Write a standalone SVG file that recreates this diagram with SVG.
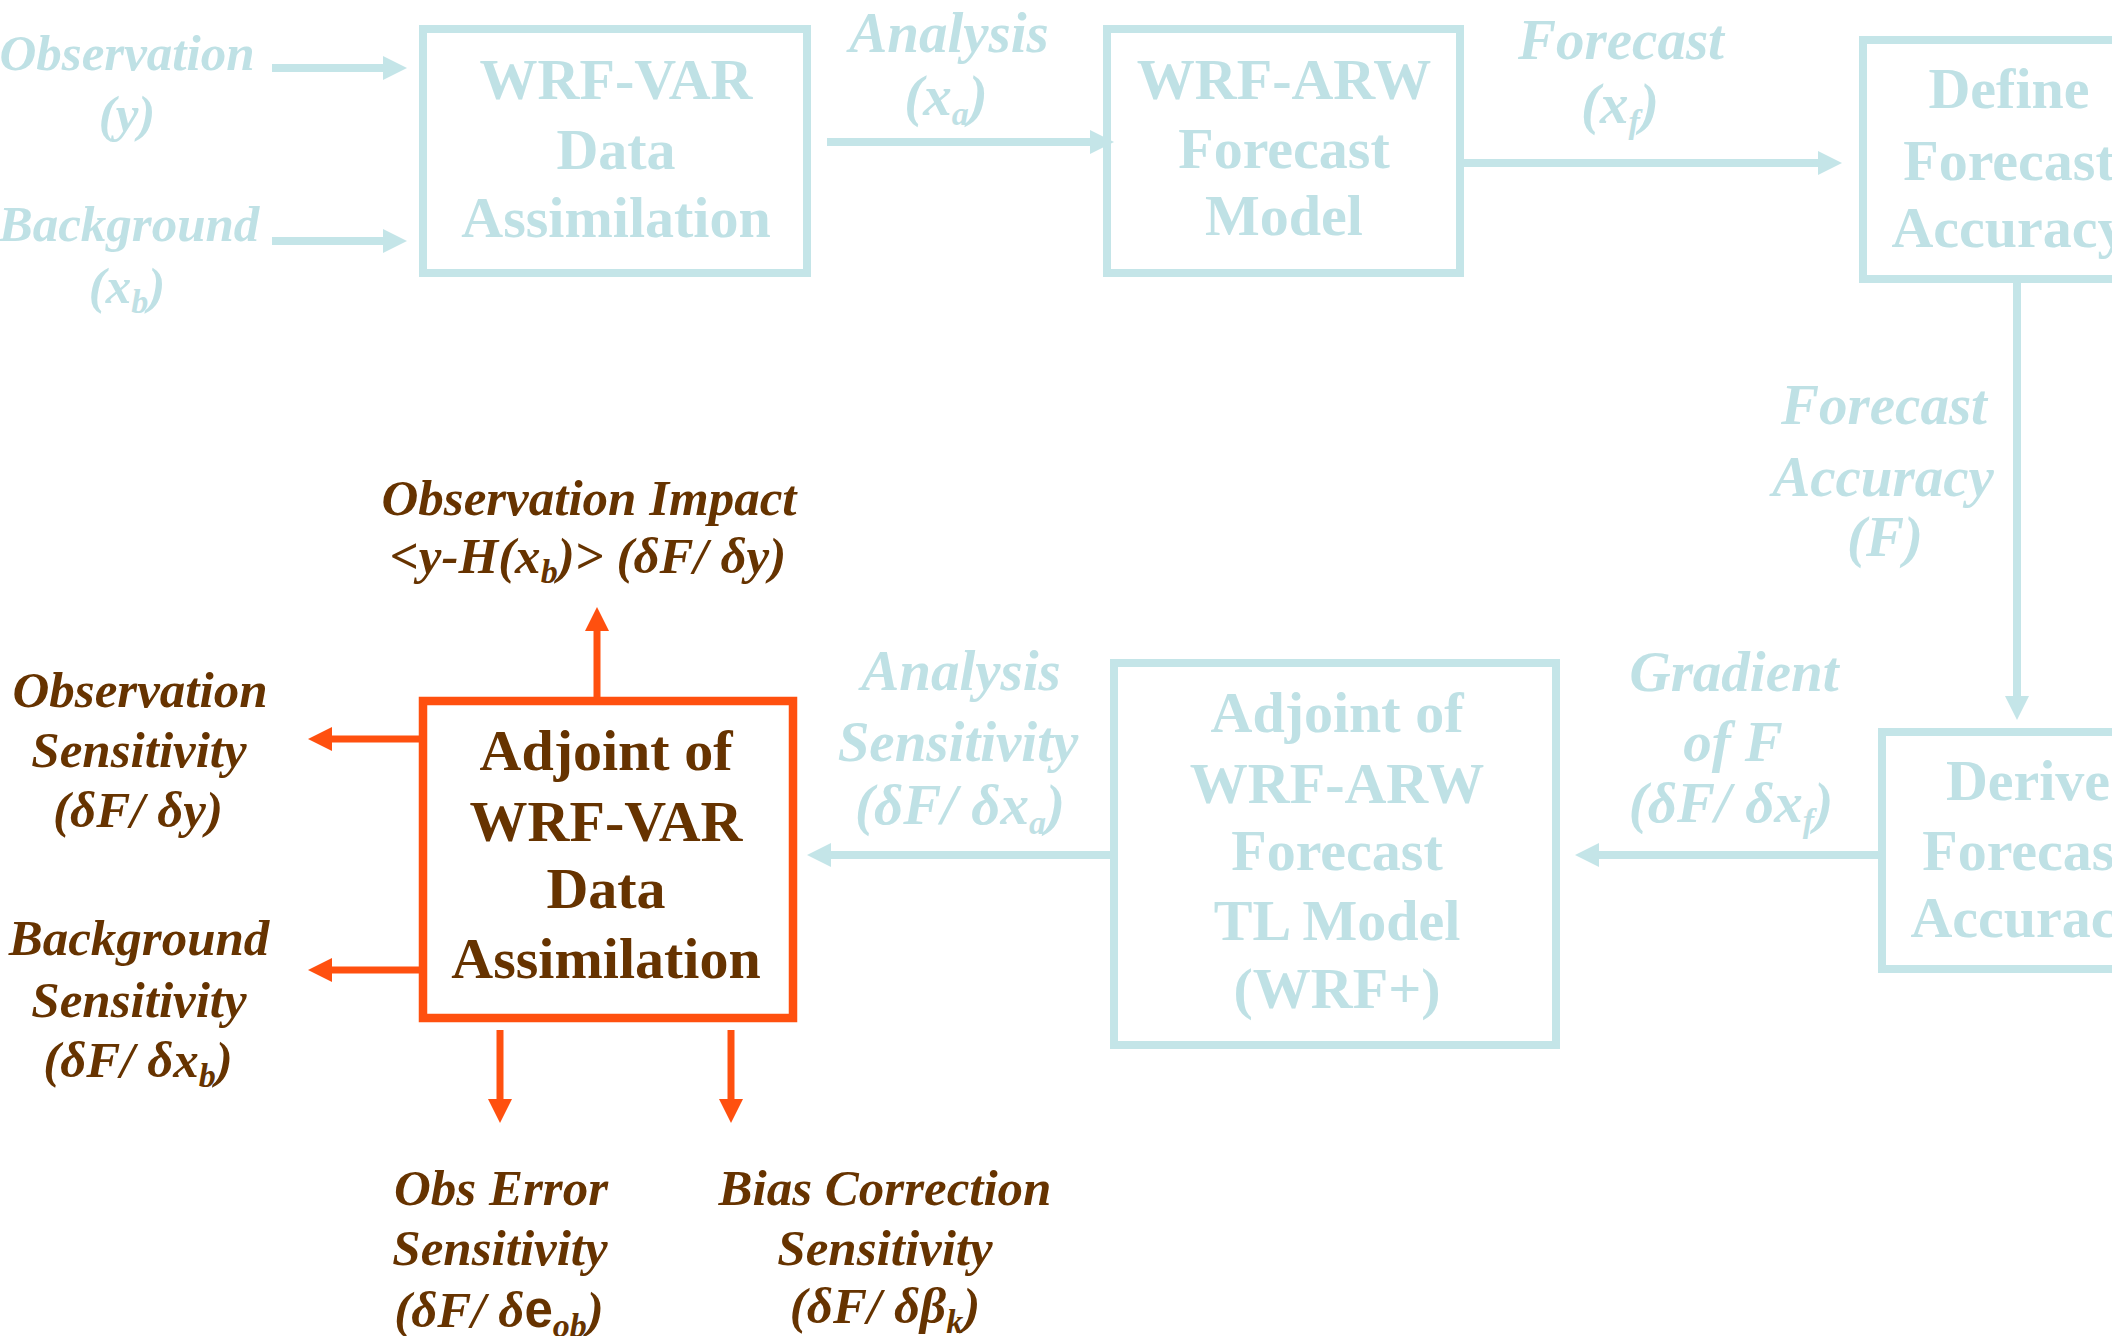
<svg xmlns="http://www.w3.org/2000/svg" width="2112" height="1336" viewBox="0 0 2112 1336">
<defs>
<marker id="ahT" markerUnits="userSpaceOnUse" markerWidth="24" markerHeight="24" viewBox="0 0 24 24" refX="0" refY="12" orient="auto"><path d="M0,0 L24,12 L0,24 z" fill="#c4e5e8"/></marker>
<marker id="ahO" markerUnits="userSpaceOnUse" markerWidth="24" markerHeight="24" viewBox="0 0 24 24" refX="0" refY="12" orient="auto"><path d="M0,0 L24,12 L0,24 z" fill="#ff500f"/></marker>
</defs>
<style>
.bt{fill:none;stroke:#c4e5e8;stroke-width:8}
.bo{fill:#fff;stroke:#ff500f;stroke-width:8.5}
.ct{fill:none;stroke:#c4e5e8;stroke-width:8;marker-end:url(#ahT)}
.co{fill:none;stroke:#ff500f;stroke-width:7;marker-end:url(#ahO)}
text{font-family:"Liberation Serif","Times New Roman",serif;font-weight:bold;text-anchor:middle}
.nt{fill:#bfe1e5;font-size:58px}
.nb{fill:#663300;font-size:58px}
.lt{fill:#bfe1e5;font-size:57px;font-style:italic}
.ls{fill:#bfe1e5;font-size:51px;font-style:italic}
.lb{fill:#663300;font-size:51px;font-style:italic}
.sub{font-size:34px}
.sans{font-family:"Liberation Sans",Arial,sans-serif;font-style:normal}
</style>
<rect width="2112" height="1336" fill="#fff"/>
<g id="connectors">
<path class="ct" d="M272,68 H383"/>
<path class="ct" d="M272,241 H383"/>
<path class="ct" d="M827,142 H1090"/>
<path class="ct" d="M1464,163 H1818"/>
<path class="ct" d="M2017,283 V696"/>
<path class="ct" d="M1878,855 H1599"/>
<path class="ct" d="M1110,855 H831"/>
<path class="co" d="M597,697 V631"/>
<path class="co" d="M419,739 H332"/>
<path class="co" d="M419,970 H332"/>
<path class="co" d="M500,1030 V1099"/>
<path class="co" d="M731,1030 V1099"/>
</g>
<g id="labels">
<text class="ls" x="127" y="70">Observation</text>
<text class="ls" x="127" y="131">(y)</text>
<text class="ls" x="129" y="241">Background</text>
<text class="ls" x="127" y="303">(x<tspan class="sub" dy="10">b</tspan><tspan dy="-10">)</tspan></text>
<text class="lt" x="949" y="52">Analysis</text>
<text class="lt" x="946" y="115">(x<tspan class="sub" dy="10">a</tspan><tspan dy="-10">)</tspan></text>
<text class="lt" x="1621" y="59">Forecast</text>
<text class="lt" x="1620" y="123">(x<tspan class="sub" dy="10">f</tspan><tspan dy="-10">)</tspan></text>
<text class="lt" x="1884" y="424">Forecast</text>
<text class="lt" x="1883" y="496">Accuracy</text>
<text class="lt" x="1885" y="556">(F)</text>
<text class="lt" x="1734" y="691">Gradient</text>
<text class="lt" x="1733" y="761">of F</text>
<text class="lt" x="1731" y="822">(δF/ δx<tspan class="sub" dy="10">f</tspan><tspan dy="-10">)</tspan></text>
<text class="lt" x="961" y="690">Analysis</text>
<text class="lt" x="958" y="761">Sensitivity</text>
<text class="lt" x="960" y="824">(δF/ δx<tspan class="sub" dy="10">a</tspan><tspan dy="-10">)</tspan></text>
<text class="lb" x="589" y="515">Observation Impact</text>
<text class="lb" x="588" y="573">&lt;y-H(x<tspan class="sub" dy="10">b</tspan><tspan dy="-10">)&gt; (δF/ δy)</tspan></text>
<text class="lb" x="140" y="707">Observation</text>
<text class="lb" x="139" y="767">Sensitivity</text>
<text class="lb" x="138" y="827">(δF/ δy)</text>
<text class="lb" x="139" y="955">Background</text>
<text class="lb" x="139" y="1017">Sensitivity</text>
<text class="lb" x="138" y="1077">(δF/ δx<tspan class="sub" dy="10">b</tspan><tspan dy="-10">)</tspan></text>
<text class="lb" x="501" y="1205">Obs Error</text>
<text class="lb" x="500" y="1265">Sensitivity</text>
<text class="lb" x="499" y="1327">(δF/ δ<tspan class="sans">e</tspan><tspan class="sub" dy="10">ob</tspan><tspan dy="-10">)</tspan></text>
<text class="lb" x="885" y="1205">Bias Correction</text>
<text class="lb" x="885" y="1265">Sensitivity</text>
<text class="lb" x="885" y="1323">(δF/ δβ<tspan class="sub" dy="10">k</tspan><tspan dy="-10">)</tspan></text>
</g>
<g id="wrfvar">
<rect class="bt" x="423" y="29" width="384" height="244"/>
<text class="nt" x="616" y="99">WRF-VAR</text>
<text class="nt" x="616" y="169">Data</text>
<text class="nt" x="616" y="237">Assimilation</text>
</g>
<g id="wrfarw">
<rect class="bt" x="1107" y="29" width="353" height="244"/>
<text class="nt" x="1284" y="99">WRF-ARW</text>
<text class="nt" x="1284" y="168">Forecast</text>
<text class="nt" x="1284" y="235">Model</text>
</g>
<g id="define">
<rect class="bt" x="1863" y="40" width="300" height="239"/>
<text class="nt" x="2009" y="108">Define</text>
<text class="nt" x="2009" y="180">Forecast</text>
<text class="nt" x="2009" y="247">Accuracy</text>
</g>
<g id="derive">
<rect class="bt" x="1882" y="732" width="300" height="237"/>
<text class="nt" x="2028" y="800">Derive</text>
<text class="nt" x="2028" y="870">Forecast</text>
<text class="nt" x="2028" y="937">Accuracy</text>
</g>
<g id="adjarw">
<rect class="bt" x="1114" y="663" width="442" height="382"/>
<text class="nt" x="1337" y="732">Adjoint of</text>
<text class="nt" x="1337" y="803">WRF-ARW</text>
<text class="nt" x="1337" y="870">Forecast</text>
<text class="nt" x="1337" y="940">TL Model</text>
<text class="nt" x="1337" y="1008">(WRF+)</text>
</g>
<g id="adjvar">
<rect class="bo" x="423" y="701" width="370" height="317"/>
<text class="nb" x="606" y="770">Adjoint of</text>
<text class="nb" x="606" y="841">WRF-VAR</text>
<text class="nb" x="606" y="908">Data</text>
<text class="nb" x="606" y="978">Assimilation</text>
</g>
</svg>
